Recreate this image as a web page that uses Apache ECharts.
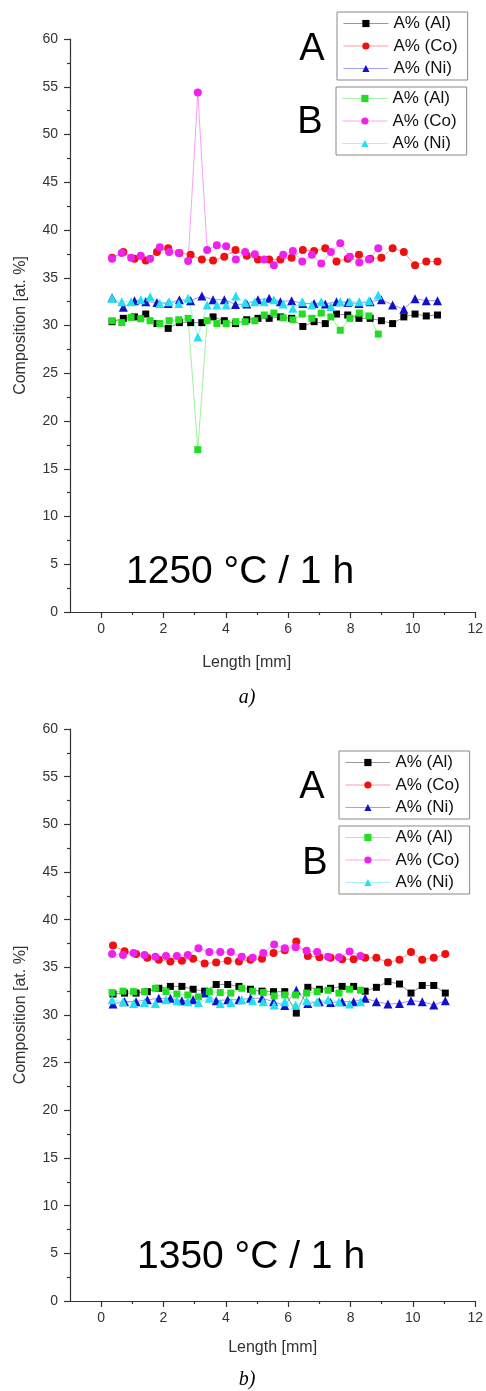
<!DOCTYPE html>
<html>
<head>
<meta charset="utf-8">
<script src="https://cdn.jsdelivr.net/npm/echarts@6/dist/echarts.min.js"></script>
<style>
html,body{margin:0;padding:0;background:#fff;}
#chart{width:486px;height:1391px;}
</style>
</head>
<body>
<div id="chart"></div>
<script>
// ---------- DATA ----------
// Panel a) 1250 °C / 1 h
const xTopA = [0.35,0.71,1.07,1.43,1.79,2.15,2.51,2.87,3.23,3.59,3.95,4.31,4.67,5.03,5.39,5.75,6.11,6.47,6.83,7.19,7.55,7.91,8.27,8.63,8.99,9.35,9.71,10.07,10.43,10.79];
const alTopA = [30.4,30.75,30.9,31.2,30.2,29.7,30.3,30.3,30.3,30.9,30.5,30.2,30.6,30.75,30.75,30.9,30.75,29.9,30.4,30.2,31.2,31.1,30.75,30.75,30.5,30.2,30.9,31.2,31.0,31.1];
const coTopA = [37.1,37.7,37.0,36.8,37.7,38.1,37.6,37.4,36.9,36.8,37.2,37.9,37.3,36.9,36.9,36.9,37.1,37.9,37.8,38.1,36.7,37.0,37.4,37.0,37.1,38.1,37.7,36.3,36.7,36.7];
const niTopA = [32.9,31.9,32.6,32.5,32.4,32.3,32.7,32.6,33.1,32.7,32.7,32.2,32.25,32.7,32.85,32.5,32.6,32.3,32.3,32.25,32.5,32.4,32.3,32.5,32.7,32.15,31.7,32.8,32.6,32.6];
const xTopB = [0.35,0.66,0.96,1.27,1.57,1.88,2.18,2.49,2.79,3.10,3.40,3.71,4.01,4.32,4.62,4.93,5.23,5.54,5.84,6.15,6.45,6.76,7.06,7.37,7.67,7.98,8.28,8.59,8.89];
const alTopB = [30.5,30.3,30.85,30.7,30.5,30.2,30.5,30.6,30.75,17.0,30.5,30.2,30.2,30.4,30.4,30.5,31.1,31.3,30.8,30.6,31.2,30.75,31.3,30.9,29.5,30.75,31.3,31.0,29.1];
const coTopB = [37.0,37.6,37.1,37.3,37.0,38.2,37.7,37.6,36.75,54.4,37.9,38.4,38.3,36.9,37.7,37.45,36.9,36.3,37.4,37.8,36.7,37.4,36.5,37.7,38.6,37.2,36.6,36.9,38.1];
const niTopB = [32.85,32.5,32.5,32.7,33.0,32.3,32.5,32.3,32.85,28.8,32.15,32.15,32.15,33.1,32.4,32.5,32.5,32.7,32.25,31.8,32.5,32.15,32.5,32.0,32.5,32.5,32.5,32.6,33.2];

// Panel b) 1350 °C / 1 h
const xBotA = [0.38,0.75,1.12,1.48,1.85,2.22,2.59,2.95,3.32,3.69,4.06,4.42,4.79,5.16,5.53,5.89,6.26,6.63,7.00,7.36,7.73,8.10,8.47,8.83,9.20,9.57,9.94,10.30,10.67,11.04];
const alBotA = [32.2,32.3,32.3,32.45,32.8,33.0,33.0,32.7,32.5,33.2,33.2,33.0,32.7,32.5,32.45,32.45,30.2,32.9,32.7,32.8,33.0,33.0,32.5,32.9,33.5,33.25,32.3,33.1,33.1,32.3];
const coBotA = [37.3,36.7,36.4,36.0,35.8,35.6,35.7,35.9,35.4,35.5,35.7,35.6,35.8,35.9,36.5,36.8,37.7,36.2,36.05,36.0,35.85,35.85,36.0,36.0,35.5,35.8,36.6,35.8,36.0,36.4];
const niBotA = [31.15,31.4,31.4,31.6,31.75,31.75,31.5,31.6,32.3,31.5,31.6,31.6,31.75,31.75,31.4,31.0,32.6,31.2,31.4,31.3,31.4,31.4,31.75,31.4,31.15,31.2,31.5,31.4,31.05,31.5];
const xBotB = [0.35,0.70,1.04,1.39,1.74,2.08,2.43,2.78,3.12,3.47,3.82,4.16,4.51,4.86,5.20,5.55,5.89,6.24,6.59,6.93,7.28,7.63,7.97,8.32];
const alBotB = [32.35,32.5,32.45,32.45,32.8,32.45,32.2,32.1,31.9,32.45,32.35,32.3,32.8,32.5,32.35,32.0,32.1,32.1,32.3,32.45,32.6,32.3,32.7,32.6];
const coBotB = [36.4,36.3,36.5,36.3,36.1,36.2,36.2,36.3,37.0,36.6,36.6,36.6,36.1,36.0,36.5,37.4,37.0,37.1,36.75,36.6,36.1,36.05,36.65,36.2];
const niBotB = [31.6,31.4,31.2,31.3,31.2,31.6,31.5,31.4,31.3,31.75,31.2,31.3,31.6,31.5,31.4,31.05,31.4,31.05,31.5,31.4,31.6,31.4,31.15,31.4];

const seriesLabels = ['A% (Al)','A% (Co)','A% (Ni)'];
const xTickValues = [0,2,4,6,8,10,12];
const xMinorValues = [1,3,5,7,9,11];
const panelTitles = ['1250 °C / 1 h','1350 °C / 1 h'];
const captions = ['a)','b)'];

// ---------- STYLE ----------
const FONT = '"Liberation Sans", Arial, sans-serif';
const colorsA = ['#000000','#ee1111','#1111cc'];
const colorsB = ['#22dd22','#ee22ee','#22e0f0'];
const symbols = ['rect','circle','triangle'];
const symSizes = [7,8,9];

const zip = (xs, ys) => xs.map((x, i) => [x, ys[i]]);

const panels = [
  {top: 39, height: 573, A: [alTopA, coTopA, niTopA], xA: xTopA, B: [alTopB, coTopB, niTopB], xB: xTopB},
  {top: 729, height: 572, A: [alBotA, coBotA, niBotA], xA: xBotA, B: [alBotB, coBotB, niBotB], xB: xBotB}
];

const grid = [], xAxis = [], yAxis = [], series = [];
panels.forEach((p, gi) => {
  grid.push({left: 70, right: 10, top: p.top, height: p.height, containLabel: false});
  xAxis.push({
    type: 'value', gridIndex: gi, min: -1, max: 12,
    name: 'Length [mm]', nameLocation: 'middle', nameGap: gi === 0 ? 43 : 39,
    nameTextStyle: {fontFamily: FONT, fontSize: 16, color: '#333', padding: gi === 0 ? [0, 52, 0, 0] : [0, 0, 0, 0]},
    axisLine: {show: true, onZero: false, lineStyle: {color: '#333', width: 1.2}},
    axisTick: {show: true, inside: false, length: 6, customValues: xTickValues, lineStyle: {color: '#333', width: 1.2}},
    axisLabel: {show: true, customValues: xTickValues, margin: 10, fontFamily: FONT, fontSize: 14, color: '#333'},
    splitLine: {show: false}
  });
  xAxis.push({
    type: 'value', gridIndex: gi, min: -1, max: 12, position: 'bottom',
    axisLine: {show: false, onZero: false},
    axisTick: {show: true, inside: false, length: 3, customValues: xMinorValues, lineStyle: {color: '#333', width: 1.2}},
    axisLabel: {show: false},
    splitLine: {show: false}
  });
  yAxis.push({
    type: 'value', gridIndex: gi, min: 0, max: 60, interval: 5,
    name: 'Composition [at. %]', nameLocation: 'middle', nameGap: 41,
    nameTextStyle: {fontFamily: FONT, fontSize: 16, color: '#333'},
    axisLine: {show: true, onZero: false, lineStyle: {color: '#333', width: 1.2}},
    axisTick: {show: true, inside: false, length: 6, lineStyle: {color: '#333', width: 1.2}},
    minorTick: {show: true, splitNumber: 2, length: 3, lineStyle: {color: '#333', width: 1.2}},
    axisLabel: {margin: 12, fontFamily: FONT, fontSize: 14, color: '#333'},
    splitLine: {show: false}
  });
  const addSet = (prefix, xs, ys, colors) => {
    ys.forEach((vals, k) => {
      series.push({
        name: prefix + seriesLabels[k],
        type: 'line', xAxisIndex: gi * 2, yAxisIndex: gi,
        data: zip(xs, vals),
        symbol: symbols[k], symbolSize: symSizes[k], showAllSymbol: true,
        itemStyle: {color: colors[k]},
        lineStyle: {color: colors[k], width: 0.8, opacity: 0.55},
        emphasis: {disabled: true},
        animation: false
      });
    });
  };
  addSet('A|', p.xA, p.A, colorsA);
  addSet('B|', p.xB, p.B, colorsB);
});

const legendBase = {
  orient: 'vertical', itemWidth: 45, itemHeight: 9, itemGap: 5.5,
  padding: [3, 10, 3, 6], borderColor: '#888', borderWidth: 1,
  selectedMode: false,
  lineStyle: {width: 0.8, opacity: 0.5},
  textStyle: {fontFamily: FONT, fontSize: 17, lineHeight: 17, color: '#111'},
  formatter: n => n.split('|')[1]
};
const legend = [
  Object.assign({}, legendBase, {left: 337, top: 12, data: seriesLabels.map(s => 'A|' + s)}),
  Object.assign({}, legendBase, {left: 336, top: 87, data: seriesLabels.map(s => 'B|' + s)}),
  Object.assign({}, legendBase, {left: 339, top: 751, data: seriesLabels.map(s => 'A|' + s)}),
  Object.assign({}, legendBase, {left: 339, top: 826, data: seriesLabels.map(s => 'B|' + s)})
];

const txt = (x, y, text, font, align) => ({
  type: 'text', x: x, y: y, silent: true,
  style: {text: text, font: font, fill: '#000', align: align || 'center', verticalAlign: 'middle'}
});
const graphic = [
  txt(312, 50, 'A', '38px ' + FONT),
  txt(310, 123, 'B', '38px ' + FONT),
  txt(312, 788, 'A', '38px ' + FONT),
  txt(315, 864, 'B', '38px ' + FONT),
  txt(126, 572, panelTitles[0], '39px ' + FONT, 'left'),
  txt(137, 1257, panelTitles[1], '39px ' + FONT, 'left'),
  txt(247, 698, captions[0], 'italic 20px "Liberation Serif", "Times New Roman", serif'),
  txt(247, 1380, captions[1], 'italic 20px "Liberation Serif", "Times New Roman", serif')
];

const chart = echarts.init(document.getElementById('chart'), null, {renderer: 'canvas'});
chart.setOption({
  backgroundColor: '#fff',
  animation: false,
  grid: grid, xAxis: xAxis, yAxis: yAxis,
  legend: legend, series: series, graphic: graphic
});
</script>
</body>
</html>
